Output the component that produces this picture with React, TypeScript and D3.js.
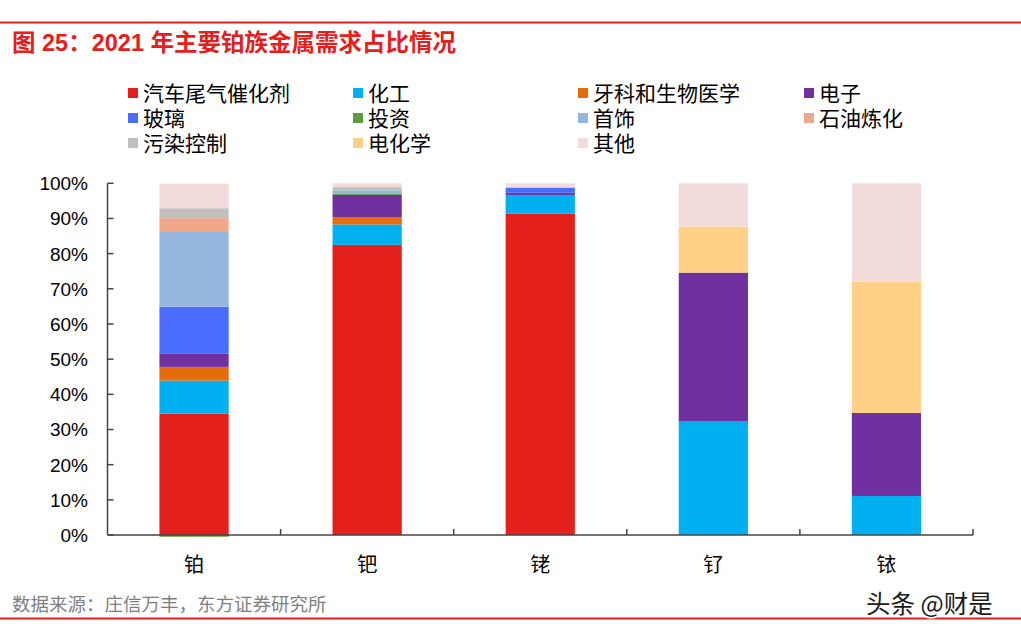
import React from "react";
import * as d3 from "d3";

const metals = ["铂", "钯", "铑", "钌", "铱"];
const seriesNames = ["汽车尾气催化剂", "化工", "牙科和生物医学", "电子", "玻璃", "投资", "首饰", "石油炼化", "污染控制", "电化学", "其他"];
const seriesColors = ["#e3201b", "#00b0f0", "#e46c0a", "#7030a0", "#4a6cff", "#5f9a3c", "#95b7de", "#f0a78a", "#bfbfbf", "#ffd085", "#f2dcdb"];
// values per series, in metal order 铂, 钯, 铑, 钌, 铱 (%)
const autocat = [34.5, 82.5, 91.4, 0, 0];
const chemical = [9.4, 5.8, 5.3, 32.4, 11.1];
const dental = [3.9, 2.1, 0, 0, 0];
const electronics = [3.7, 6.3, 0.6, 42.2, 23.6];
const glass = [13.4, 0, 1.5, 0, 0];
const investment = [-0.5, 0.4, 0, 0, 0];
const jewellery = [21.5, 0.9, 0, 0, 0];
const petroleum = [3.7, 0, 0, 0, 0];
const pollution = [2.8, 0.9, 0, 0, 0];
const electrochem = [0, 0, 0, 13.1, 37.3];
const other = [7.0, 1.1, 1.2, 12.3, 28.0];
const yTicks = [0, 10, 20, 30, 40, 50, 60, 70, 80, 90, 100];

const seriesValues = [autocat, chemical, dental, electronics, glass, investment, jewellery, petroleum, pollution, electrochem, other];

const W = 1021;
const H = 639;
const cjk = "'Noto Sans CJK SC', 'Liberation Sans', Arial, sans-serif";
const latin = "'Liberation Sans', Arial, 'Noto Sans CJK SC', sans-serif";

export default function App() {
  const left = 107.5;
  const right = 973;
  const top = 183.3;
  const bottom = 535;

  const x = d3.scaleBand<string>().domain(metals).range([left, right]).paddingInner(0.6).paddingOuter(0.3);
  const xOuter = d3.scaleBand<string>().domain(metals).range([left, right]);
  const y = d3.scaleLinear().domain([0, 100]).range([bottom, top]);

  const rows = metals.map((m, i) => {
    const r: any = { metal: m };
    seriesNames.forEach((s, j) => (r[s] = seriesValues[j][i]));
    return r;
  });
  const stack = d3.stack<any>().keys(seriesNames).offset(d3.stackOffsetDiverging);
  const layers = stack(rows);

  const legendCols = [128, 353, 578, 804];
  const legendRows = [93, 118, 143];

  return (
    <svg width={W} height={H} style={{ position: "absolute", left: 0, top: 0, background: "#fff" }}>
      <rect x={0} y={0} width={W} height={H} fill="#fff" />
      <line x1={0} x2={W} y1={22.5} y2={22.5} stroke="#e3201b" strokeWidth={2} />
      <text x={12} y={51} fill="#e3201b" fontFamily={latin} fontWeight="bold" fontSize={23.5}>
        图 25：2021 年主要铂族金属需求占比情况
      </text>

      {seriesNames.map((s, i) => {
        const cx = legendCols[i % 4];
        const cy = legendRows[Math.floor(i / 4)];
        return (
          <g key={s}>
            <rect x={cx} y={cy - 5} width={10} height={10} fill={seriesColors[i]} />
            <text x={cx + 15} y={cy + 7.5} fontFamily={cjk} fontSize={21} fill="#000">
              {s}
            </text>
          </g>
        );
      })}

      {layers.map((layer, li) => (
        <g key={layer.key} fill={seriesColors[li]}>
          {layer.map((d, di) => {
            const y0 = y(Math.max(d[0], d[1]));
            const y1 = y(Math.min(d[0], d[1]));
            if (Math.abs(d[1] - d[0]) < 1e-9) return null;
            return <rect key={di} x={x(metals[di])!} y={y0} width={x.bandwidth()} height={y1 - y0} />;
          })}
        </g>
      ))}

      {/* y axis */}
      <line x1={left} x2={left} y1={top} y2={bottom} stroke="#444" strokeWidth={1.5} />
      {yTicks.map((t) => (
        <g key={t}>
          <line x1={left} x2={left + 6} y1={y(t)} y2={y(t)} stroke="#444" strokeWidth={1.5} />
          <text x={88} y={y(t) + 7} textAnchor="end" fontFamily={latin} fontSize={19} fill="#000">
            {t}%
          </text>
        </g>
      ))}

      {/* x axis */}
      <line x1={left} x2={right} y1={bottom} y2={bottom} stroke="#444" strokeWidth={1.5} />
      {metals.map((m) => (
        <g key={m}>
          <line x1={xOuter(m)! + xOuter.bandwidth()} x2={xOuter(m)! + xOuter.bandwidth()} y1={bottom} y2={bottom - 6} stroke="#444" strokeWidth={1.5} />
          <text x={xOuter(m)! + xOuter.bandwidth() / 2} y={572} textAnchor="middle" fontFamily={cjk} fontSize={20} fill="#000">
            {m}
          </text>
        </g>
      ))}

      <text x={12} y={611} fontFamily={cjk} fontSize={18.5} fill="#7f7f7f">
        数据来源：庄信万丰，东方证券研究所
      </text>
      <line x1={0} x2={W} y1={618.5} y2={618.5} stroke="#e3201b" strokeWidth={2} />
      <text x={866} y={613} fontFamily={cjk} fontSize={24.5} fill="#1a1a1a" stroke="#fff" strokeWidth={3} paintOrder="stroke">
        头条 @财是
      </text>
    </svg>
  );
}
